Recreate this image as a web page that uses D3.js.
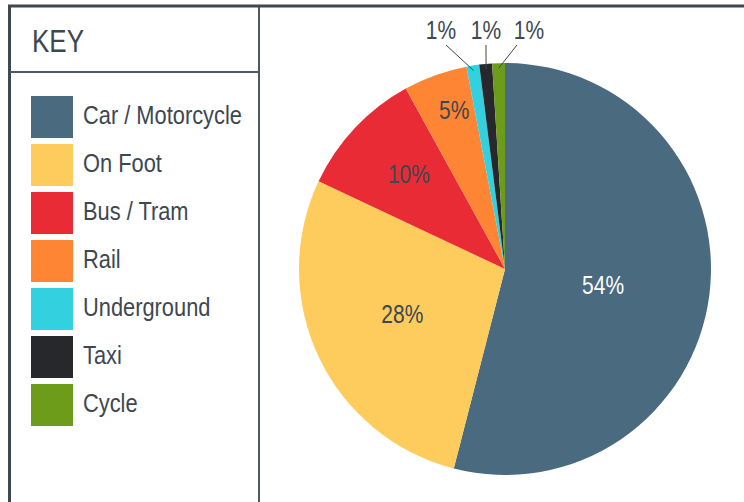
<!DOCTYPE html>
<html>
<head>
<meta charset="utf-8">
<script src="https://cdn.jsdelivr.net/npm/d3@7"></script>
<style>
  body { margin: 0; background: #fff; }
  svg text { font-family: "Liberation Sans", Arial, sans-serif; }
</style>
</head>
<body>
<svg width="744" height="502"></svg>
<script>
// travel mode shares (%)
let categories = ['Car / Motorcycle', 'On Foot', 'Bus / Tram', 'Rail', 'Underground', 'Taxi', 'Cycle']
let values = [54, 28, 10, 5, 1, 1, 1]
let labels = ['54%', '28%', '10%', '5%', '1%', '1%', '1%']
let colors = ['#4a6a80', '#fecc5c', '#e92b36', '#fd8534', '#33d1e0', '#27282b', '#6d9c1b']

var svg = d3.select('svg')
var textColor = '#3d4750'
var narrow = 0.84  // squeeze Arial into a narrow face

// text helper: places narrowed text at x,y
let addText = (parent, x, y, str, size, fill, anchor) => {
  return parent.append('text')
    .attr('transform', 'translate(' + x + ',' + y + ') scale(' + narrow + ',1)')
    .attr('dy', '0.35em')
    .attr('text-anchor', anchor || 'start')
    .attr('font-size', size)
    .attr('fill', fill)
    .text(str)
}

// frame
svg.append('line').attr('x1', 8).attr('x2', 744).attr('y1', 6).attr('y2', 6)
  .attr('stroke', '#3f474f').attr('stroke-width', 3)
svg.append('line').attr('x1', 9.5).attr('x2', 9.5).attr('y1', 5).attr('y2', 502)
  .attr('stroke', '#3f474f').attr('stroke-width', 3)
svg.append('line').attr('x1', 259).attr('x2', 259).attr('y1', 7).attr('y2', 502)
  .attr('stroke', '#50585f').attr('stroke-width', 2)
svg.append('line').attr('x1', 10).attr('x2', 259).attr('y1', 72).attr('y2', 72)
  .attr('stroke', '#50585f').attr('stroke-width', 2)

addText(svg, 32, 41, 'KEY', 31, textColor)

// legend
let legend = svg.append('g').selectAll('g')
  .data(categories)
  .enter()
  .append('g')
  .attr('transform', (d, i) => 'translate(31,' + (96 + i * 48) + ')')

legend.append('rect')
  .attr('width', 42).attr('height', 42)
  .attr('fill', (d, i) => colors[i])

legend.each(function (d) {
  addText(d3.select(this), 52, 19, d, 26, textColor)
})

// pie
let cx = 505, cy = 269, r = 206
let pie = d3.pie().sort(null).value(d => d)
let arcs = pie(values)
let arc = d3.arc().innerRadius(0).outerRadius(r)

let g = svg.append('g').attr('transform', 'translate(' + cx + ',' + cy + ')')

g.selectAll('path')
  .data(arcs)
  .enter()
  .append('path')
  .attr('d', arc)
  .attr('fill', (d, i) => colors[i])

// inside labels: radius fraction grows as slices get smaller
let labelRadius = [0.48, 0.54, 0.64, 0.80]
let labelShift = [[0, 4], [-2, -2], [0, -5], [5, -4]]
let pt = (a, rr) => [Math.sin(a) * rr, -Math.cos(a) * rr]

arcs.forEach((d, i) => {
  let mid = (d.startAngle + d.endAngle) / 2
  if (i < 4) {
    let p = pt(mid, r * labelRadius[i])
    addText(g, p[0] + labelShift[i][0], p[1] + labelShift[i][1], labels[i], 25, i === 0 ? '#ffffff' : textColor, 'middle')
  }
})

// outside labels for the small slices
let small = arcs.slice(4)
let spread = [-45, 0, 43]
let lineStart = [5, 0, -12]
let midAnchor = pt((small[1].startAngle + small[1].endAngle) / 2, r - 4)
small.forEach((d, j) => {
  let i = j + 4
  let mid = (d.startAngle + d.endAngle) / 2
  let a = pt(mid, r - 5)
  let lx = midAnchor[0] + spread[j]
  let ly = 30 - cy
  g.append('line')
    .attr('x1', lx + lineStart[j]).attr('y1', ly + 15)
    .attr('x2', a[0]).attr('y2', a[1])
    .attr('stroke', textColor).attr('stroke-width', 1)
  addText(g, lx, ly, labels[i], 25, textColor, 'middle')
})
</script>
</body>
</html>
